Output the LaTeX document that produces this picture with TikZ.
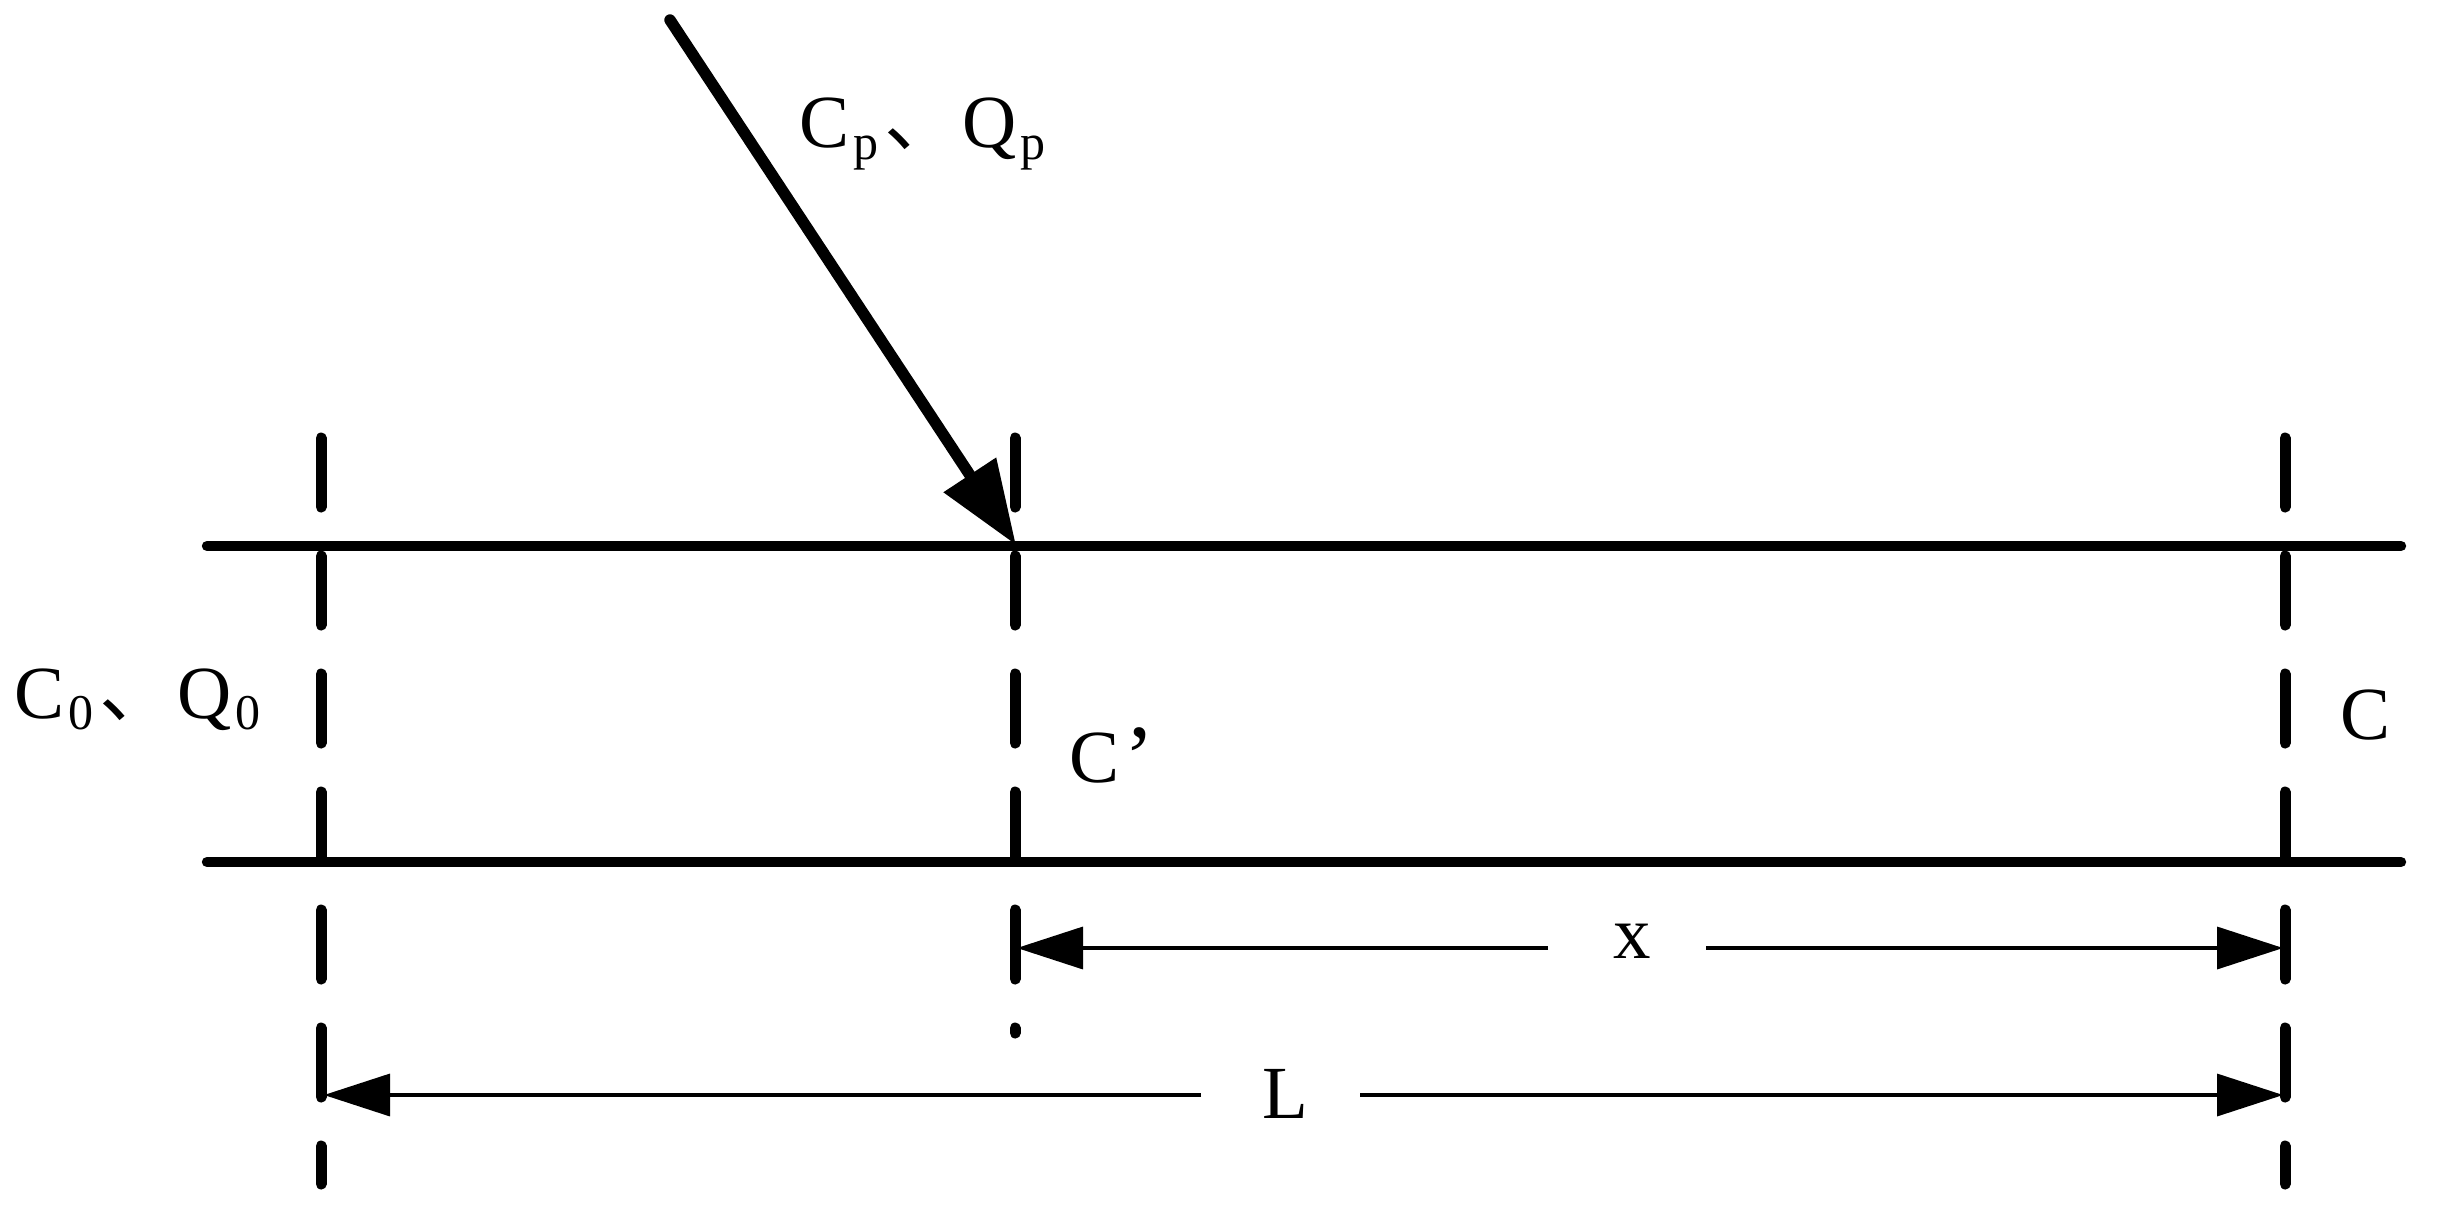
\documentclass[tikz,border=0pt]{standalone}
\usepackage{fontspec}
\setmainfont{Liberation Serif}
\newfontfamily\cjk{Noto Sans CJK SC}
\usetikzlibrary{arrows.meta}
\newcommand{\Lab}{\fontsize{37.5}{40}\selectfont}
\newcommand{\Sb}[1]{\kern2pt\raisebox{-5.7pt}{\fontsize{25}{27}\selectfont #1}}
\newcommand{\Tick}{\makebox[42pt][l]{\hspace{3pt}\raisebox{1pt}{\cjk 、}}}
\newcommand{\Prm}{\kern2.5pt\raisebox{-2.5pt}{\fontsize{45}{45}\selectfont ’}}
\tikzset{
  x=0.5pt,y=-0.5pt,
  wall/.style={line width=5.2pt,line cap=round},
  section/.style={line width=5.5pt,line cap=round,dash pattern=on 34.5pt off 24.5pt},
  inflow/.style={line width=5.7pt,line cap=round,-{Triangle[length=42pt,width=30pt,sep=0pt]}},
  dim/.style={line width=1.75pt,-{Triangle[length=33pt,width=21pt,sep=0pt]}},
  lab/.style={anchor=base west,inner sep=0pt,outer sep=0pt,font=\Lab}
}
\begin{document}
\begin{tikzpicture}
\useasboundingbox (0,0) rectangle (2439,1209);
% walls
\coordinate (wtl) at (207,546);
\coordinate (wtr) at (2401,546);
\coordinate (wbl) at (207,862);
\coordinate (wbr) at (2401,862);
\draw[wall] (wtl) -- (wtr);
\draw[wall] (wbl) -- (wbr);
% section lines
\coordinate (s1t) at (321,438);
\coordinate (s1b) at (321,1184);
\coordinate (s2t) at (1015,438);
\coordinate (s2b) at (1015,1033);
\coordinate (s3t) at (2285,438);
\coordinate (s3b) at (2285,1184);
\draw[section] (s1t) -- (s1b);
\draw[section] (s2t) -- (s2b);
\draw[section] (s3t) -- (s3b);
% inflow
\coordinate (ins) at (670,20);
\coordinate (int) at (1016,545);
\draw[inflow] (ins) -- (int);
% labels
\node[lab] (cpqp) at (799,148) {C\Sb{p}\Tick Q\Sb{p}};
\node[lab] (c0q0) at (14,718) {C\Sb{0}\Tick Q\Sb{0}};
\node[lab] (cprime) at (1069,782) {C\Prm};
\node[lab] (cend) at (2340,739) {C};
\node[lab] (xlab) at (1613,958) {x};
\node[lab] (llab) at (1262,1118) {L};
% dimension x
\coordinate (xl) at (1017,948);
\coordinate (xr) at (2283,948);
\coordinate (xa) at (1548,948);
\coordinate (xb) at (1706,948);
\draw[dim] (xa) -- (xl);
\draw[dim] (xb) -- (xr);
% dimension L
\coordinate (ll) at (324,1095);
\coordinate (lr) at (2283,1095);
\coordinate (la) at (1201,1095);
\coordinate (lb) at (1360,1095);
\draw[dim] (la) -- (ll);
\draw[dim] (lb) -- (lr);
\end{tikzpicture}
\end{document}
